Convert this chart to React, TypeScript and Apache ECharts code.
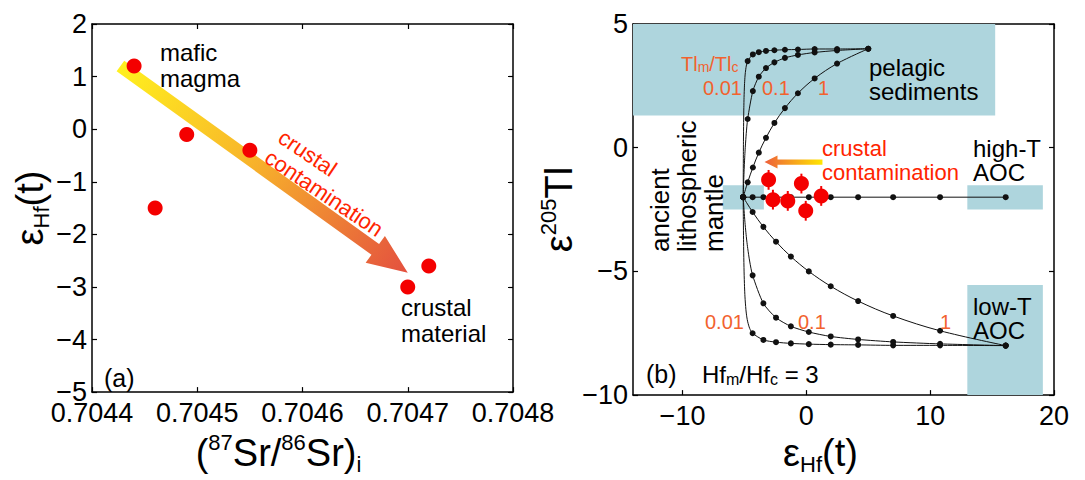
import React, { useEffect, useRef } from 'react';
import * as echarts from 'echarts';

// ---------- Panel (a) data ----------
const srTicks = [0.7044, 0.7045, 0.7046, 0.7047, 0.7048];
const srValues = [0.70444, 0.70446, 0.70449, 0.70455, 0.7047, 0.70472];
const hfValuesA = [1.2, -1.5, -0.1, -0.4, -3.0, -2.6];
const arrowA = [0.704427, 1.2, 0.7047, -2.73]; // tail x,y -> tip x,y

// ---------- Panel (b) data ----------
const hfTicksB = [-10, 0, 10, 20];
// mixing-curve dots (fraction of crust 0 .. 1 by 0.1)
const sedHf = [-5.1, -4.74, -4.32, -3.84, -3.26, -2.58, -1.73, -0.68, 0.67, 2.48, 5.0];
const aocHf = [-5.1, -4.34, -3.47, -2.45, -1.25, 0.2, 1.97, 4.18, 7.01, 10.8, 16.1];
const sedTl001 = [-2, 3.5, 3.77, 3.86, 3.91, 3.94, 3.96, 3.97, 3.99, 3.99, 4];
const sedTl01 = [-2, 1.16, 2.29, 2.87, 3.22, 3.45, 3.63, 3.75, 3.85, 3.93, 4];
const sedTl1 = [-2, -1.4, -0.8, -0.2, 0.4, 1.0, 1.6, 2.2, 2.8, 3.4, 4];
const lowTl001 = [-2, -7.5, -7.77, -7.86, -7.91, -7.94, -7.96, -7.97, -7.99, -7.99, -8];
const lowTl01 = [-2, -5.16, -6.29, -6.87, -7.22, -7.45, -7.63, -7.75, -7.85, -7.93, -8];
const lowTl1 = [-2, -2.6, -3.2, -3.8, -4.4, -5.0, -5.6, -6.2, -6.8, -7.4, -8];
const highTl = [-2, -2, -2, -2, -2, -2, -2, -2, -2, -2, -2];
// traced curve shape near the mantle end (before the first dot)
const sedHead001 = [[-5.1, -2], [-5.097, -1.45], [-5.093, -1.0], [-5.087, -0.28], [-5.08, 0.26], [-5.066, 1.02], [-5.049, 1.62], [-5.032, 2.03], [-4.997, 2.53], [-4.962, 2.84], [-4.926, 3.04], [-4.853, 3.3]];
const sedHead01 = [[-5.1, -2], [-5.066, -1.45], [-5.032, -0.98], [-4.997, -0.58], [-4.962, -0.24], [-4.926, 0.07], [-4.853, 0.58]];
const lowHead001 = [[-5.1, -2], [-5.093, -2.55], [-5.086, -3.0], [-5.072, -3.72], [-5.058, -4.26], [-5.029, -5.02], [-4.993, -5.62], [-4.957, -6.03], [-4.884, -6.53], [-4.81, -6.84], [-4.735, -7.04], [-4.581, -7.3]];
const lowHead01 = [[-5.1, -2], [-5.029, -2.55], [-4.957, -3.02], [-4.884, -3.42], [-4.81, -3.77], [-4.735, -4.07], [-4.581, -4.58]];
// samples
const sampleHf = [-3.05, -2.7, -1.5, -0.4, -0.05, 1.2];
const sampleTl = [-1.3, -2.1, -2.15, -1.45, -2.55, -1.95];
const sampleTlErr = [0.4, 0.4, 0.4, 0.4, 0.4, 0.4];
// reservoirs: x1, y1, x2, y2
const boxes = [
  [-14, 5, 15.25, 1.3],
  [-6.75, -1.52, -3.43, -2.5],
  [13.0, -1.52, 19.1, -2.5],
  [13.0, -5.55, 19.1, -10],
];
const arrowB = [1.3, -0.58, -3.38, -0.58];

const FONT = '"Liberation Sans", Arial, Helvetica, sans-serif';
const ORANGE = '#f2622e';
const RED = '#ff2400';
const BLUE = '#aed5dd';
const DOT = '#111111';

const minus = (v: number) => String(v).replace('-', '\u2212');

function arrowPolygon(p0: number[], p1: number[], hw: number, headHw: number, headLen: number, stops: any[]) {
  const dx = p1[0] - p0[0];
  const dy = p1[1] - p0[1];
  const L = Math.sqrt(dx * dx + dy * dy) || 1;
  const ux = dx / L, uy = dy / L;
  const nx = -uy, ny = ux;
  const bx = p1[0] - ux * headLen, by = p1[1] - uy * headLen;
  const points = [
    [p0[0] + nx * hw, p0[1] + ny * hw],
    [bx + nx * hw, by + ny * hw],
    [bx + nx * headHw, by + ny * headHw],
    [p1[0], p1[1]],
    [bx - nx * headHw, by - ny * headHw],
    [bx - nx * hw, by - ny * hw],
    [p0[0] - nx * hw, p0[1] - ny * hw],
  ];
  return {
    type: 'polygon',
    shape: { points },
    style: {
      fill: { type: 'linear', x: p0[0], y: p0[1], x2: p1[0], y2: p1[1], global: true, colorStops: stops },
      stroke: null,
    },
  };
}

const axisLineStyle = { show: true, onZero: false, lineStyle: { color: '#000', width: 1.5 } };
const tickStyle = { show: true, inside: true, length: 5, lineStyle: { color: '#000', width: 1.2 } };
const labelStyle = { color: '#000', fontSize: 27, fontFamily: FONT };

const nameRich = {
  e: { fontSize: 38, lineHeight: 44, fontFamily: FONT, color: '#000' },
  s: { fontSize: 22, lineHeight: 17, verticalAlign: 'bottom', fontFamily: FONT, color: '#000' },
  p: { fontSize: 22, lineHeight: 19, verticalAlign: 'top', fontFamily: FONT, color: '#000' },
};

function txt(x: number, y: number, text: string, o: any = {}) {
  return {
    type: 'text',
    x,
    y,
    rotation: o.rotation || 0,
    z: 100,
    silent: true,
    style: {
      text,
      x: 0,
      y: 0,
      fill: o.color || '#000',
      fontSize: o.size || 24,
      fontFamily: FONT,
      align: o.align || 'left',
      verticalAlign: 'middle',
      lineHeight: o.lh || 26,
      rich: o.rich,
    },
  };
}

function curve(head: number[][] | null, xs: number[], ys: number[]) {
  const pts = xs.map((x, i) => [x, ys[i]]);
  return head ? [...head, ...pts.slice(1)] : pts;
}

function buildOption() {
  const dotData: number[][] = [];
  const addDots = (xs: number[], ys: number[]) => xs.forEach((x, i) => dotData.push([x, ys[i]]));
  addDots(sedHf, sedTl001); addDots(sedHf, sedTl01); addDots(sedHf, sedTl1);
  addDots(aocHf, lowTl001); addDots(aocHf, lowTl01); addDots(aocHf, lowTl1);
  addDots(aocHf, highTl);

  const lineSeries = (data: number[][], smooth: number) => ({
    type: 'line', xAxisIndex: 2, yAxisIndex: 2, data, showSymbol: false, symbol: 'none',
    smooth, lineStyle: { color: DOT, width: 1 }, z: 3, silent: true,
  });

  const subRich = (size: number, color: string) => ({
    s: { fontSize: size, fill: color, fontFamily: FONT, verticalAlign: 'bottom', lineHeight: size + 4 },
  });

  return {
    animation: false,
    backgroundColor: '#fff',
    grid: [
      { left: 92, top: 24, width: 421, height: 371 },
      { left: 633, top: 24, width: 421, height: 372 },
    ],
    xAxis: [
      {
        gridIndex: 0, type: 'value', position: 'bottom', min: 0.7044, max: 0.7048,
        axisLine: axisLineStyle, axisTick: { ...tickStyle, customValues: srTicks },
        axisLabel: { ...labelStyle, customValues: srTicks, margin: 7, formatter: (v: number) => v.toFixed(4) },
        splitLine: { show: false },
        name: '{e|(}{p|87}{e|Sr/}{p|86}{e|Sr)}{s|i}', nameLocation: 'middle', nameGap: 34,
        nameTextStyle: { rich: nameRich, padding: [0, 48, 0, 0] },
      },
      {
        gridIndex: 0, type: 'value', position: 'top', min: 0.7044, max: 0.7048,
        axisLine: axisLineStyle, axisTick: { ...tickStyle, customValues: srTicks },
        axisLabel: { show: false }, splitLine: { show: false },
      },
      {
        gridIndex: 1, type: 'value', position: 'bottom', min: -14, max: 20,
        axisLine: axisLineStyle, axisTick: { ...tickStyle, customValues: hfTicksB },
        axisLabel: { ...labelStyle, customValues: hfTicksB, margin: 7, formatter: minus },
        splitLine: { show: false },
        name: '{e|ε}{s|Hf}{e|(t)}', nameLocation: 'middle', nameGap: 34,
        nameTextStyle: { rich: nameRich, padding: [0, 46, 0, 0] },
      },
      {
        gridIndex: 1, type: 'value', position: 'top', min: -14, max: 20,
        axisLine: axisLineStyle, axisTick: { ...tickStyle, customValues: hfTicksB },
        axisLabel: { show: false }, splitLine: { show: false },
      },
    ],
    yAxis: [
      {
        gridIndex: 0, type: 'value', position: 'left', min: -5, max: 2, interval: 1,
        axisLine: axisLineStyle, axisTick: tickStyle,
        axisLabel: { ...labelStyle, margin: 5, formatter: minus }, splitLine: { show: false },
        name: '{e|ε}{s|Hf}{e|(t)}', nameLocation: 'middle', nameRotate: 90, nameGap: 37,
        nameTextStyle: { rich: nameRich },
      },
      {
        gridIndex: 0, type: 'value', position: 'right', min: -5, max: 2, interval: 1,
        axisLine: axisLineStyle, axisTick: tickStyle, axisLabel: { show: false }, splitLine: { show: false },
      },
      {
        gridIndex: 1, type: 'value', position: 'left', min: -10, max: 5, interval: 5,
        axisLine: axisLineStyle, axisTick: tickStyle,
        axisLabel: { ...labelStyle, margin: 5, formatter: minus }, splitLine: { show: false },
        name: '{e|ε}{p|205}{e|Tl}', nameLocation: 'middle', nameRotate: 90, nameGap: 28,
        nameTextStyle: { rich: nameRich },
      },
      {
        gridIndex: 1, type: 'value', position: 'right', min: -10, max: 5, interval: 5,
        axisLine: axisLineStyle, axisTick: tickStyle, axisLabel: { show: false }, splitLine: { show: false },
      },
    ],
    series: [
      // ----- panel (a)
      {
        type: 'custom', xAxisIndex: 0, yAxisIndex: 0, z: 2, silent: true,
        data: [arrowA],
        renderItem: (_p: any, api: any) => {
          const p0 = api.coord([api.value(0), api.value(1)]);
          const p1 = api.coord([api.value(2), api.value(3)]);
          return arrowPolygon(p0, p1, 6.5, 16.5, 40, [
            { offset: 0, color: '#fff01e' },
            { offset: 0.45, color: '#f8b52a' },
            { offset: 1, color: '#e4503f' },
          ]);
        },
      },
      {
        type: 'scatter', xAxisIndex: 0, yAxisIndex: 0, z: 5, silent: true,
        symbolSize: 15, itemStyle: { color: '#f40000', opacity: 1 },
        data: srValues.map((x, i) => [x, hfValuesA[i]]),
      },
      // ----- panel (b)
      {
        type: 'custom', xAxisIndex: 2, yAxisIndex: 2, z: 1, silent: true,
        data: boxes,
        encode: { x: [0, 2], y: [1, 3] },
        renderItem: (_p: any, api: any) => {
          const a = api.coord([api.value(0), api.value(1)]);
          const b = api.coord([api.value(2), api.value(3)]);
          return {
            type: 'rect',
            shape: { x: Math.min(a[0], b[0]), y: Math.min(a[1], b[1]), width: Math.abs(b[0] - a[0]), height: Math.abs(b[1] - a[1]) },
            style: { fill: BLUE },
          };
        },
      },
      lineSeries(curve(sedHead001, sedHf, sedTl001), 0.25),
      lineSeries(curve(sedHead01, sedHf, sedTl01), 0.25),
      lineSeries(curve(null, sedHf, sedTl1), 0.35),
      lineSeries(curve(lowHead001, aocHf, lowTl001), 0.25),
      lineSeries(curve(lowHead01, aocHf, lowTl01), 0.25),
      lineSeries(curve(null, aocHf, lowTl1), 0.35),
      lineSeries(curve(null, aocHf, highTl), 0),
      {
        type: 'scatter', xAxisIndex: 2, yAxisIndex: 2, z: 4, silent: true,
        symbolSize: 6, itemStyle: { color: DOT, opacity: 1 },
        data: dotData,
      },
      {
        type: 'custom', xAxisIndex: 2, yAxisIndex: 2, z: 5, silent: true,
        data: sampleHf.map((x, i) => [x, sampleTl[i] - sampleTlErr[i], sampleTl[i] + sampleTlErr[i]]),
        renderItem: (_p: any, api: any) => {
          const a = api.coord([api.value(0), api.value(1)]);
          const b = api.coord([api.value(0), api.value(2)]);
          return { type: 'line', shape: { x1: a[0], y1: a[1], x2: b[0], y2: b[1] }, style: { stroke: '#f40000', lineWidth: 2 } };
        },
      },
      {
        type: 'scatter', xAxisIndex: 2, yAxisIndex: 2, z: 6, silent: true,
        symbolSize: 15, itemStyle: { color: '#f40000', opacity: 1 },
        data: sampleHf.map((x, i) => [x, sampleTl[i]]),
      },
      {
        type: 'custom', xAxisIndex: 2, yAxisIndex: 2, z: 7, silent: true,
        data: [arrowB],
        renderItem: (_p: any, api: any) => {
          const p0 = api.coord([api.value(0), api.value(1)]);
          const p1 = api.coord([api.value(2), api.value(3)]);
          return arrowPolygon(p0, p1, 2.6, 6.5, 13, [
            { offset: 0, color: '#ffe600' },
            { offset: 1, color: '#ee5f3a' },
          ]);
        },
      },
    ],
    graphic: [
      // panel (a)
      txt(160, 65, 'mafic\nmagma', { size: 24, lh: 26 }),
      txt(401, 320, 'crustal\nmaterial', { size: 24, lh: 26 }),
      txt(104, 378, '(a)', { size: 25 }),
      txt(274, 145, 'crustal\ncontamination', { size: 22, lh: 24, color: RED, align: 'left', rotation: (-34 * Math.PI) / 180 }),
      // panel (b)
      txt(681, 64, 'Tl{s|m}/Tl{s|c}', { size: 20, lh: 20, color: ORANGE, rich: subRich(14, ORANGE) }),
      txt(703, 88, '0.01', { size: 20, lh: 20, color: ORANGE }),
      txt(762, 88, '0.1', { size: 20, lh: 20, color: ORANGE }),
      txt(818, 88, '1', { size: 20, lh: 20, color: ORANGE }),
      txt(869, 79, 'pelagic\nsediments', { size: 24, lh: 24 }),
      txt(822, 160, 'crustal\ncontamination', { size: 22, lh: 24, color: RED }),
      txt(973, 160, 'high-T\nAOC', { size: 24, lh: 24 }),
      txt(973, 318, 'low-T\nAOC', { size: 24, lh: 24 }),
      txt(705, 322, '0.01', { size: 20, lh: 20, color: ORANGE }),
      txt(798, 322, '0.1', { size: 20, lh: 20, color: ORANGE }),
      txt(940, 322, '1', { size: 20, lh: 20, color: ORANGE }),
      txt(646, 374, '(b)', { size: 25 }),
      txt(702, 374, 'Hf{s|m}/Hf{s|c} = 3', { size: 24, rich: subRich(16, '#000') }),
      txt(686.5, 252, 'ancient\nlithospheric\nmantle', { size: 26, lh: 27, align: 'left', rotation: Math.PI / 2 }),
    ],
  };
}

export default function App() {
  const ref = useRef<HTMLDivElement>(null);
  useEffect(() => {
    if (!ref.current) return;
    const chart = echarts.init(ref.current, null, { renderer: 'svg' });
    chart.setOption(buildOption() as any);
    return () => chart.dispose();
  }, []);
  return (
    <div
      ref={ref}
      style={{ position: 'absolute', left: 0, top: 0, width: 1085, height: 480, background: '#fff' }}
    />
  );
}
